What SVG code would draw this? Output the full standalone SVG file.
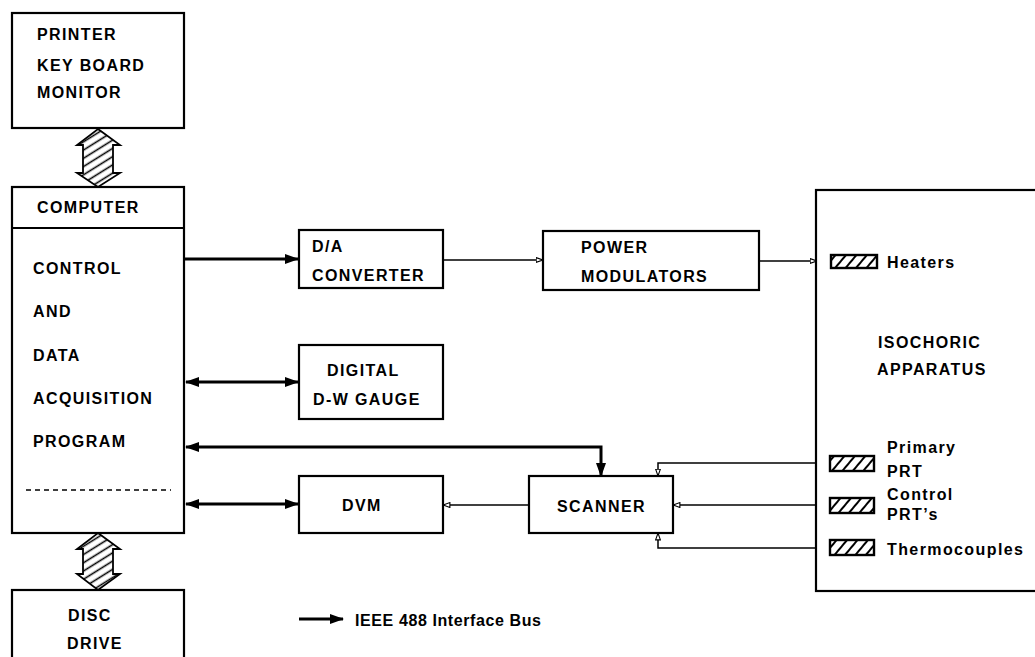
<svg xmlns="http://www.w3.org/2000/svg" width="1035" height="657" viewBox="0 0 1035 657">
<style>
.box{fill:#fff;stroke:#000;stroke-width:2.2}
.t{font-family:"Liberation Sans",Arial,Helvetica,sans-serif;font-weight:bold;font-size:16px;letter-spacing:1.4px;fill:#000}
.bus{fill:none;stroke:#000;stroke-width:3}
.thin{fill:none;stroke:#000;stroke-width:1.5}
.sensor{fill:url(#hatchS);stroke:#000;stroke-width:2.4}
.hatchArrow{fill:url(#hatchA);stroke:#000;stroke-width:1.8}
</style>
<defs>
<pattern id="hatchA" patternUnits="userSpaceOnUse" width="7" height="7" patternTransform="rotate(-32)">
<rect width="7" height="7" fill="#fff"/>
<line x1="0" y1="3.5" x2="7" y2="3.5" stroke="#000" stroke-width="1.6"/>
</pattern>
<pattern id="hatchS" patternUnits="userSpaceOnUse" width="8" height="8" patternTransform="rotate(-50)">
<rect width="8" height="8" fill="#fff"/>
<line x1="0" y1="4" x2="8" y2="4" stroke="#000" stroke-width="2"/>
</pattern>
<marker id="fa" viewBox="0 0 14 10" refX="13" refY="5" markerWidth="14" markerHeight="10" markerUnits="userSpaceOnUse" orient="auto-start-reverse">
<path d="M0,0 L14,5 L0,10 Z" fill="#000"/>
</marker>
<marker id="oa" viewBox="0 0 8 6" refX="7.5" refY="3" markerWidth="8" markerHeight="6" markerUnits="userSpaceOnUse" orient="auto">
<path d="M0.6,0.6 L7.4,3 L0.6,5.4 Z" fill="#fff" stroke="#000" stroke-width="1.1"/>
</marker>
</defs>

<g id="connectors">
<line class="bus" x1="185" y1="259" x2="298" y2="259" marker-end="url(#fa)"/>
<line class="bus" x1="186" y1="382" x2="298" y2="382" marker-start="url(#fa)" marker-end="url(#fa)"/>
<path class="bus" d="M186,447 H601 V476" marker-start="url(#fa)" marker-end="url(#fa)"/>
<line class="bus" x1="186" y1="504" x2="298" y2="504" marker-start="url(#fa)" marker-end="url(#fa)"/>
<line class="thin" x1="443" y1="260" x2="543" y2="260" marker-end="url(#oa)"/>
<line class="thin" x1="759" y1="261" x2="817" y2="261" marker-end="url(#oa)"/>
<line class="thin" x1="817" y1="261" x2="831" y2="261"/>
<path class="thin" d="M830,463 H658 V476" marker-end="url(#oa)"/>
<line class="thin" x1="830" y1="505" x2="673" y2="505" marker-end="url(#oa)"/>
<path class="thin" d="M830,548 H658 V533" marker-end="url(#oa)"/>
<line class="thin" x1="529" y1="505" x2="443" y2="505" marker-end="url(#oa)"/>
<polygon id="bus-printer" class="hatchArrow" points="98,129 120,145 113,145 113,173 120,173 98,187 77,173 83,173 83,145 77,145"/>
<polygon id="bus-disc" class="hatchArrow" points="98,533 120,549 113,549 113,574 120,574 98,590 77,574 83,574 83,549 77,549"/>
</g>

<g id="printer">
<rect class="box" x="12" y="13" width="172" height="115"/>
<text class="t" x="37" y="40">PRINTER</text>
<text class="t" x="37" y="71">KEY BOARD</text>
<text class="t" x="37" y="98">MONITOR</text>
</g>

<g id="computer">
<rect class="box" x="12" y="187" width="172" height="346"/>
<line x1="12" y1="228" x2="184" y2="228" stroke="#000" stroke-width="2"/>
<text class="t" x="37" y="213">COMPUTER</text>
<text class="t" x="33" y="274">CONTROL</text>
<text class="t" x="33" y="317">AND</text>
<text class="t" x="33" y="361">DATA</text>
<text class="t" x="33" y="404">ACQUISITION</text>
<text class="t" x="33" y="447">PROGRAM</text>
<line x1="26" y1="490" x2="171" y2="490" stroke="#000" stroke-width="1.3" stroke-dasharray="5,4"/>
</g>

<g id="disc">
<rect class="box" x="12" y="590" width="172" height="80"/>
<text class="t" x="68" y="621">DISC</text>
<text class="t" x="67" y="649">DRIVE</text>
</g>

<g id="da">
<rect class="box" x="299" y="230" width="144" height="58"/>
<text class="t" x="312" y="252">D/A</text>
<text class="t" x="312" y="281">CONVERTER</text>
</g>

<g id="gauge">
<rect class="box" x="299" y="345" width="144" height="74"/>
<text class="t" x="327" y="376">DIGITAL</text>
<text class="t" x="313" y="405">D-W GAUGE</text>
</g>

<g id="dvm">
<rect class="box" x="299" y="476" width="144" height="57"/>
<text class="t" x="342" y="511">DVM</text>
</g>

<g id="scanner">
<rect class="box" x="529" y="476" width="144" height="57"/>
<text class="t" x="557" y="512">SCANNER</text>
</g>

<g id="power">
<rect class="box" x="543" y="231" width="216" height="59"/>
<text class="t" x="581" y="253">POWER</text>
<text class="t" x="581" y="282">MODULATORS</text>
</g>

<g id="apparatus">
<rect class="box" x="816" y="190" width="240" height="401"/>
<text class="t" x="878" y="348">ISOCHORIC</text>
<text class="t" x="877" y="375">APPARATUS</text>
<rect class="sensor" x="831" y="255" width="46" height="13"/>
<text class="t" x="887" y="268">Heaters</text>
<rect class="sensor" x="830" y="456" width="44" height="15"/>
<text class="t" x="887" y="453">Primary</text>
<text class="t" x="887" y="477">PRT</text>
<rect class="sensor" x="830" y="498" width="44" height="15"/>
<text class="t" x="887" y="500">Control</text>
<text class="t" x="887" y="520">PRT’s</text>
<rect class="sensor" x="830" y="540" width="44" height="15"/>
<text class="t" x="887" y="555">Thermocouples</text>
</g>

<g id="legend">
<line class="bus" x1="299" y1="619" x2="343" y2="619" marker-end="url(#fa)"/>
<text class="t" x="355" y="626" style="letter-spacing:0.6px">IEEE 488 Interface Bus</text>
</g>
</svg>
